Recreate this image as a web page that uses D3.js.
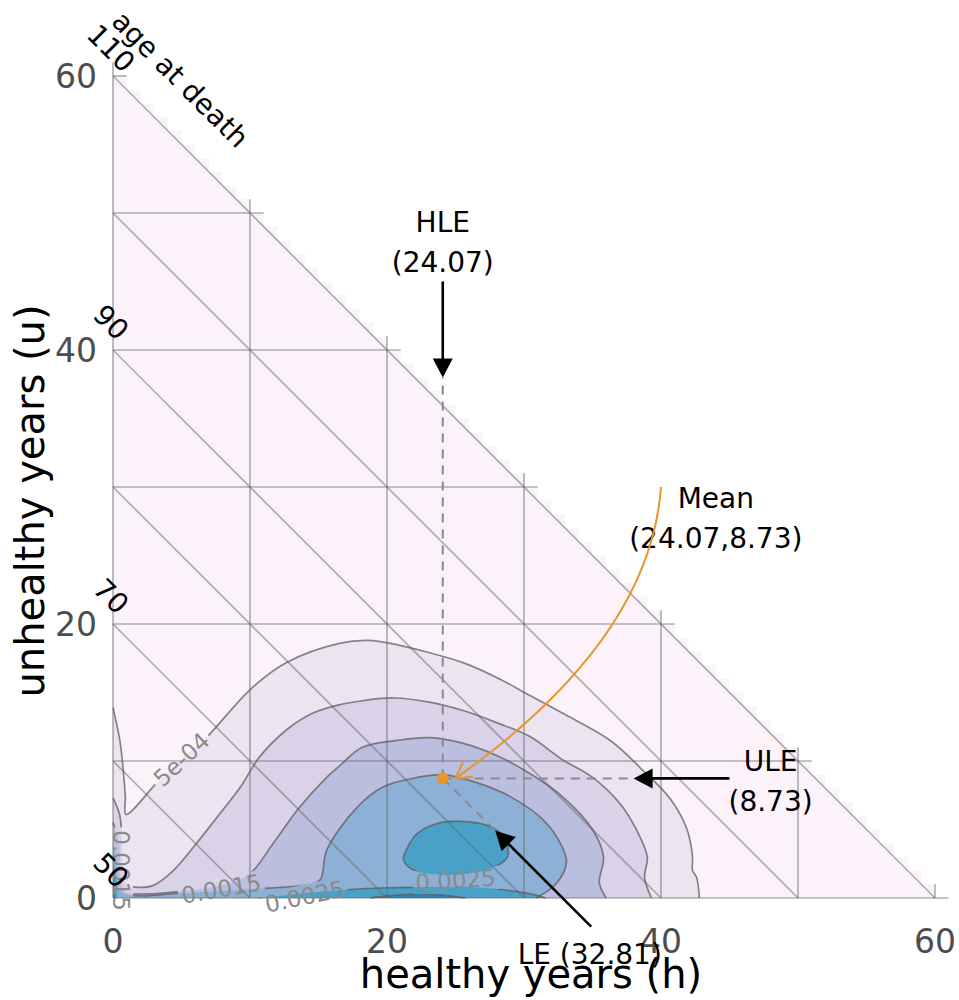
<!DOCTYPE html>
<html>
<head>
<meta charset="utf-8">
<script src="https://cdn.jsdelivr.net/npm/d3@7"></script>
<style>
body { margin: 0; background: #fff; }
text { font-family: "DejaVu Sans", sans-serif; }
</style>
</head>
<body>
<script>
/* Data */
var axisTicks = [0, 20, 40, 60],
	gridBreaks = [0, 10, 20, 30, 40, 50, 60],
	ageTicks = [50, 70, 90, 110],
	ageStart = 50;

var HLE = 24.07, ULE = 8.73, LE = 32.81;

// contour levels of the joint density
var levels = [0.0005, 0.001, 0.0015, 0.002, 0.0025, 0.003];

// contour outlines, [h, u]
var c0005 = [[0,13.9],[0.5,11.5],[0.75,9.3],[0.9,7.4],[0.95,6.1],[3.2,8.4],[5,10.1],[6.9,11.8],[10,15.2],[12.7,17.2],[16.6,18.6],[18.6,18.8],[20.7,18.5],[23.1,17.9],[25.5,17.2],[28,16.1],[30.4,14.8],[32.8,13.5],[36.3,11.5],[38.7,9.3],[40.7,7.2],[41.9,5.0],[42.3,3.0],[42.3,2.0],[42.6,1.5],[42.8,0]];
var c0010 = [[0,7.3],[0.5,6.0],[0.65,4.0],[0.75,2.0],[1.0,1.0],[1.6,0.8],[2.9,0.9],[4.4,2.0],[6.1,4.0],[7.6,5.9],[9.3,8.1],[10.7,10.3],[12.7,12.3],[14.6,13.5],[16.5,14.1],[18.2,14.4],[20.5,14.6],[23.1,14.3],[25.5,13.7],[28,12.8],[30.4,11.8],[32.8,10.1],[35,8.8],[37,6.9],[38.2,5.0],[39,3.0],[38.8,1.5],[39.3,0]];
var c0015 = [[0,5.5],[0.45,4.0],[0.55,1.5],[0.9,0.45],[2.5,0.3],[5,0.5],[7.5,0.85],[9.9,1.7],[11.7,4.0],[13.6,6.6],[15.6,8.8],[16.6,9.7],[18.2,11.0],[20.7,11.5],[23.1,11.7],[25.5,11.3],[28,10.4],[30.4,9.1],[32.8,7.4],[35,5.0],[35.8,3.0],[35.5,1.1],[36,0]];
var c0020 = [[0,4.0],[0.3,2.5],[0.4,0.8],[1.0,0.25],[5,0.35],[10,0.65],[14,0.95],[15.1,1.3],[15.6,3.5],[17.8,6.6],[19.7,8.1],[22.2,8.8],[24.1,9.0],[26.6,8.4],[29,7.4],[31.4,5.7],[32.8,3.7],[33.1,2.6],[32.4,1.1],[30.9,0]];
var c0025core = [[21.2,2.8],[21.5,3.7],[22.2,4.7],[23.9,5.5],[25.5,5.6],[27.3,5.3],[28.5,4.5],[28.8,3.0],[27.7,2.2],[26.1,1.8],[24,1.7],[22,2.0]];
var c0025strip = [[10.7,0],[14,0.35],[17,0.6],[20,0.75],[23,0.8],[26,0.8],[28.5,0.6],[30.5,0.3],[31.6,0]];
var c0025spike = [[0,2.6],[0.25,1.5],[0.3,0]];
var c0030strip = [[18.8,0],[20.5,0.2],[23,0.28],[25.7,0]];
var c0030spike = [[0,1.4],[0.18,0]];

var contourLabels = [
	{text: "5e-04", h: 5.0, u: 10.1, angle: -43},
	{text: "0.0015", h: 7.9, u: 0.66, angle: -10},
	{text: "0.0025", h: 14.0, u: 0.1, angle: -12},
	{text: "0.0025", h: 25.0, u: 1.3, angle: -4},
	{text: "0.0015", h: 0.58, u: 2.0, angle: 90}
];

/* Display setup */
var width = 959, height = 1000,
	svg = d3.select("body").append("svg")
		.attr("width", width)
		.attr("height", height),
	x = d3.scaleLinear().domain([0, 60]).range([113, 935]),
	y = d3.scaleLinear().domain([0, 60]).range([898, 76]);

var bandColors = ["#ece4f1", "#d9d2e8", "#bcbee0", "#8db0d6", "#4aa1c8", "#2b86b3"];

var shapes = [
	{level: 0, pts: c0005},
	{level: 1, pts: c0010},
	{level: 2, pts: c0015},
	{level: 3, pts: c0020},
	{level: 4, pts: c0025core, closed: true},
	{level: 4, pts: c0025strip},
	{level: 4, pts: c0025spike},
	{level: 5, pts: c0030strip},
	{level: 5, pts: c0030spike}
];

var line = d3.line()
	.x(function(d) { return x(d[0]); })
	.y(function(d) { return y(d[1]); })
	.curve(d3.curveCatmullRom.alpha(0.5));
var closedLine = d3.line()
	.x(function(d) { return x(d[0]); })
	.y(function(d) { return y(d[1]); })
	.curve(d3.curveCatmullRomClosed.alpha(0.5));

/* Triangle background, raster cells make the stairs */
var stairs = d3.range(0, 61).map(function(k) { return [k, 60 - k]; });
var stairLine = d3.line()
	.x(function(d) { return x(d[0]); })
	.y(function(d) { return y(d[1]); })
	.curve(d3.curveStepAfter);
svg.append("path")
	.attr("d", stairLine(stairs) + "L" + x(0) + "," + y(0) + "Z")
	.style("fill", "#fcf3fa");

/* filled bands */
var fills = svg.append("g");
shapes.forEach(function(s) {
	var d = s.closed ? closedLine(s.pts) : line(s.pts) + "L" + x(0) + "," + y(0) + "Z";
	fills.append("path")
		.attr("d", d)
		.style("fill", bandColors[s.level]);
});

/* contour labels (drawn later, measured now for the mask) */
var defs = svg.append("defs");
var mask = defs.append("mask").attr("id", "labelMask").attr("maskUnits", "userSpaceOnUse")
	.attr("x", 0).attr("y", 0).attr("width", width).attr("height", height);
mask.append("rect").attr("width", width).attr("height", height).style("fill", "white");

/* grid: age-at-death diagonals + h/u lines */
var grid = svg.append("g")
	.style("stroke", "#666")
	.style("stroke-opacity", 0.5)
	.style("stroke-width", 1.7);
gridBreaks.forEach(function(c) {
	grid.append("line")
		.attr("x1", x(c)).attr("y1", y(0))
		.attr("x2", x(c)).attr("y2", y(61 - c));
	grid.append("line")
		.attr("x1", x(0)).attr("y1", y(c))
		.attr("x2", x(61 - c)).attr("y2", y(c));
	if (c > 0) {
		grid.append("line")
			.attr("x1", x(0)).attr("y1", y(c))
			.attr("x2", x(c)).attr("y2", y(0));
	}
});

/* contour lines */
var clines = svg.append("g")
	.attr("mask", "url(#labelMask)")
	.style("fill", "none")
	.style("stroke", "#5a5a5a")
	.style("stroke-opacity", 0.72)
	.style("stroke-width", 1.7);
shapes.forEach(function(s) {
	clines.append("path")
		.attr("d", s.closed ? closedLine(s.pts) : line(s.pts));
});

var labels = svg.append("g")
	.style("fill", "#8a8a8a")
	.style("font-size", "23px");
contourLabels.forEach(function(l) {
	var t = labels.append("text")
		.attr("transform", "translate(" + x(l.h) + "," + y(l.u) + ") rotate(" + l.angle + ")")
		.attr("text-anchor", "middle")
		.attr("dominant-baseline", "central")
		.text(l.text);
	var w = t.node().getComputedTextLength() + 6;
	mask.append("rect")
		.attr("transform", "translate(" + x(l.h) + "," + y(l.u) + ") rotate(" + l.angle + ")")
		.attr("x", -w / 2).attr("y", -12)
		.attr("width", w).attr("height", 24)
		.style("fill", "black");
});

/* Axes text */
svg.append("g").selectAll("text")
	.data(axisTicks)
	.enter().append("text")
		.attr("x", function(d) { return x(d); })
		.attr("y", 953)
		.attr("text-anchor", "middle")
		.style("font-size", "33px")
		.style("fill", "#4d4d4d")
		.text(function(d) { return d; });
svg.append("g").selectAll("text")
	.data(axisTicks)
	.enter().append("text")
		.attr("x", 97)
		.attr("y", function(d) { return y(d); })
		.attr("text-anchor", "end")
		.attr("dominant-baseline", "central")
		.style("font-size", "33px")
		.style("fill", "#4d4d4d")
		.text(function(d) { return d; });

svg.append("text")
	.attr("x", 531).attr("y", 988)
	.attr("text-anchor", "middle")
	.style("font-size", "40px")
	.text("healthy years (h)");
svg.append("text")
	.attr("transform", "translate(44,501) rotate(-90)")
	.attr("text-anchor", "middle")
	.style("font-size", "40px")
	.text("unhealthy years (u)");

/* age at death labels */
svg.append("g").selectAll("text")
	.data(ageTicks)
	.enter().append("text")
		.attr("transform", function(d) { return "translate(" + x(0) + "," + y(d - ageStart) + ") rotate(45)"; })
		.attr("x", -21).attr("y", -18)
		.attr("text-anchor", "middle")
		.attr("dominant-baseline", "central")
		.style("font-size", "28px")
		.text(function(d) { return d; });
svg.append("text")
	.attr("transform", "translate(" + x(0) + "," + y(60) + ") rotate(45)")
	.attr("x", 50).attr("y", -45)
	.attr("text-anchor", "middle")
	.attr("dominant-baseline", "central")
	.style("font-size", "28px")
	.text("age at death");

/* Annotations */
function arrow(from, to, color) {
	var x1 = x(from[0]), y1 = y(from[1]), x2 = x(to[0]), y2 = y(to[1]);
	var len = Math.sqrt((x2 - x1) * (x2 - x1) + (y2 - y1) * (y2 - y1));
	var ux = (x2 - x1) / len, uy = (y2 - y1) / len;
	var hl = 19, hw = 10;
	var bx = x2 - ux * hl, by = y2 - uy * hl;
	svg.append("line")
		.attr("x1", x1).attr("y1", y1).attr("x2", bx + ux * 2).attr("y2", by + uy * 2)
		.style("stroke", color).style("stroke-width", 2.6);
	svg.append("polygon")
		.attr("points", [[x2, y2], [bx - uy * hw, by + ux * hw], [bx + uy * hw, by - ux * hw]].join(" "))
		.style("fill", color);
}

function dashed(from, to) {
	svg.append("line")
		.attr("x1", x(from[0])).attr("y1", y(from[1]))
		.attr("x2", x(to[0])).attr("y2", y(to[1]))
		.style("stroke", "#8a8a8a")
		.style("stroke-width", 2)
		.style("stroke-dasharray", "9,7");
}

var leTip = [27.9, LE - 27.9], leStart = [34.9, LE - 34.9];
dashed([HLE, ULE], [HLE, 38]);
dashed([HLE, ULE], [38, ULE]);
dashed([HLE, ULE], leTip);

arrow([HLE, 45], [HLE, 38], "black");
arrow([45, ULE], [38, ULE], "black");
arrow(leStart, leTip, "black");

function twoLines(h, u, l1, l2) {
	var t = svg.append("text")
		.attr("x", x(h)).attr("y", y(u))
		.attr("text-anchor", "middle")
		.style("font-size", "28px");
	t.append("tspan").attr("x", x(h)).text(l1);
	if (l2) t.append("tspan").attr("x", x(h)).attr("dy", 40).text(l2);
}
twoLines(HLE, 48.6, "HLE", "(" + HLE.toFixed(2) + ")");
twoLines(48.0, 9.27, "ULE", "(" + ULE.toFixed(2) + ")");
twoLines(44.0, 28.5, "Mean", "(" + HLE.toFixed(2) + "," + ULE.toFixed(2) + ")");
twoLines(34.8, -4.85, "LE (" + LE.toFixed(2) + ")");

/* Mean point and curved orange arrow */
var orange = "#e8952b";
var p0 = [x(40), y(30)], pc = [x(39.2), y(18.8)], p2 = [x(25.0), y(ULE)];
svg.append("path")
	.attr("d", "M" + p0 + "Q" + pc + " " + p2)
	.style("fill", "none").style("stroke", orange).style("stroke-width", 2);
var ang = Math.atan2(pc[1] - p2[1], pc[0] - p2[0]);
[-0.52, 0.52].forEach(function(a) {
	svg.append("line")
		.attr("x1", p2[0]).attr("y1", p2[1])
		.attr("x2", p2[0] + 18 * Math.cos(ang + a)).attr("y2", p2[1] + 18 * Math.sin(ang + a))
		.style("stroke", orange).style("stroke-width", 2);
});
svg.append("circle")
	.attr("cx", x(HLE)).attr("cy", y(ULE)).attr("r", 6)
	.style("fill", orange);
</script>
</body>
</html>
